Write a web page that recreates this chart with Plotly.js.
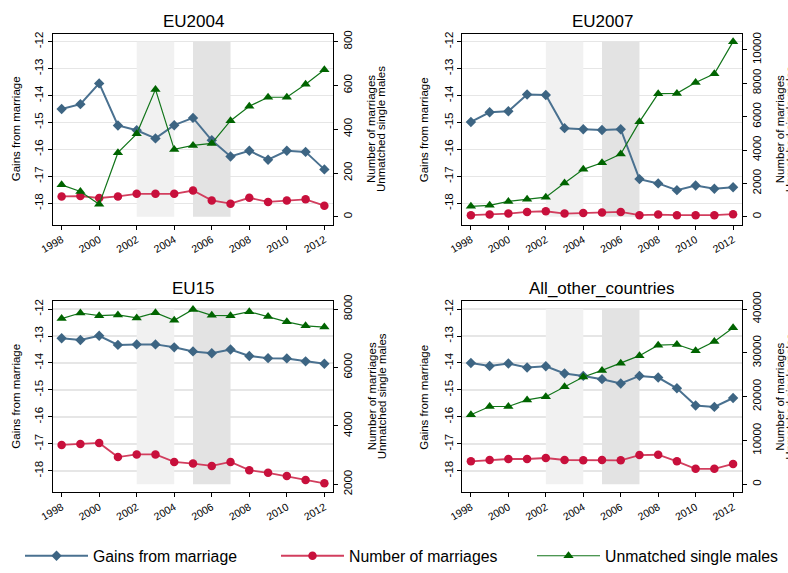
<!DOCTYPE html>
<html><head><meta charset="utf-8">
<script src="https://cdn.plot.ly/plotly-3.0.1.min.js"></script>
<style>html,body{margin:0;padding:0;background:#fff}#chart{width:788px;height:573px}</style>
</head><body><div id="chart"></div>
<script>
// ---------- data ----------
const years = [1998,1999,2000,2001,2002,2003,2004,2005,2006,2007,2008,2009,2010,2011,2012];
const panelNames = ["EU2004","EU2007","EU15","All_other_countries"];
const seriesNames = ["Gains from marriage","Number of marriages","Unmatched single males"];

const gainsEU2004 = [-14.50,-14.32,-13.55,-15.11,-15.29,-15.59,-15.10,-14.83,-15.66,-16.26,-16.05,-16.38,-16.05,-16.09,-16.74];
const marrEU2004  = [93,95,86,93,105,105,105,120,75,60,87,68,75,80,51];
const unmEU2004   = [146,116,57,293,379,582,308,326,335,439,505,546,546,605,672];

const gainsEU2007 = [-14.98,-14.62,-14.58,-13.96,-13.98,-15.21,-15.25,-15.28,-15.25,-17.10,-17.26,-17.51,-17.34,-17.46,-17.40];
const marrEU2007  = [98,137,196,294,333,196,235,255,294,98,137,98,98,98,157];
const unmEU2007   = [627,686,922,1059,1176,2020,2843,3235,3765,5686,7373,7392,8039,8569,10490];

const gainsEU15 = [-13.08,-13.15,-12.99,-13.33,-13.31,-13.31,-13.42,-13.57,-13.64,-13.50,-13.74,-13.82,-13.83,-13.94,-14.03];
const marrEU15  = [3348,3382,3416,2933,3022,3022,2764,2708,2629,2764,2483,2393,2281,2146,2034];
const unmEU15   = [7674,7865,7775,7798,7697,7876,7618,7989,7787,7775,7910,7742,7562,7427,7382];

const gainsOther = [-14.00,-14.11,-14.02,-14.17,-14.12,-14.39,-14.48,-14.60,-14.76,-14.48,-14.54,-14.94,-15.58,-15.63,-15.30];
const marrOther  = [5243,5543,5768,5768,5993,5543,5468,5543,5468,6667,6742,5243,3521,3521,4644];
const unmOther   = [15880,17753,17753,19251,20000,22247,24494,25993,27640,29363,31760,31910,30487,32584,35730];

const xTickLabels = [1998,2000,2002,2004,2006,2008,2010,2012];
const leftTicks = [-18,-17,-16,-15,-14,-13,-12];
const rightTicksEU2004 = [0,200,400,600,800];
const rightTicksEU2007 = [0,2000,4000,6000,8000,10000];
const rightTicksEU15   = [2000,4000,6000,8000];
const rightTicksOther  = [0,10000,20000,30000,40000];

const bandYears = [[2002,2004],[2005,2007]];
const bandLow = -18.5, bandHigh = -12;

// ---------- assembly ----------
const gainsAll = [gainsEU2004,gainsEU2007,gainsEU15,gainsOther];
const marrAll  = [marrEU2004,marrEU2007,marrEU15,marrOther];
const unmAll   = [unmEU2004,unmEU2007,unmEU15,unmOther];
const rightTicksAll = [rightTicksEU2004,rightTicksEU2007,rightTicksEU15,rightTicksOther];

const W = 788, H = 573;
const FONT = "Liberation Sans, Arial, sans-serif";
// pixel boxes of each plot region [left,right,top,bottom]
const boxes = [[53,333,34.3,228.3],[462.3,741.7,34.3,228.3],[53,333,306,500],[462.3,741.7,306,500]];
const leftTitleX = [16,424,16,424];
const rightTitleX = [371.7,780,371.7,780];
const titleY = [21.5,21.5,293,293];

const colGains = "#3d6583", colGainsLine = "#4a7190";
const colMarr = "#c8103c", colMarrLine = "#d23e5e";
const colUnm = "#006400", colUnmLine = "#12751a";
const pad = 0.045;
function ext(lo, hi){ const d = hi-lo; return [lo - pad*d, hi + pad*d]; }

const data = [];
const layout = {
  width: W, height: H, margin:{l:0,r:0,t:0,b:0},
  paper_bgcolor:"#fff", plot_bgcolor:"#fff",
  font:{family:FONT, color:"#000"},
  showlegend:true,
  legend:{orientation:"h", x:0.029, xanchor:"left", y:1-565/H, yanchor:"middle",
          font:{size:15.8, family:FONT, color:"#000"}, itemwidth:63, entrywidth:178, entrywidthmode:"pixels",
          bgcolor:"rgba(0,0,0,0)", traceorder:"normal"},
  shapes:[], annotations:[]
};

for (let i=0;i<4;i++){
  const xs = i===0 ? "x" : "x"+(i+1);
  const yl = (2*i+1)===1 ? "y" : "y"+(2*i+1);
  const yr = "y"+(2*i+2);
  const xKey = i===0 ? "xaxis" : "xaxis"+(i+1);
  const ylKey = (2*i+1)===1 ? "yaxis" : "yaxis"+(2*i+1);
  const yrKey = "yaxis"+(2*i+2);
  const b = boxes[i];
  const dx = [b[0]/W, b[1]/W], dy = [1-b[3]/H, 1-b[2]/H];
  const rt = rightTicksAll[i];
  const allR = marrAll[i].concat(unmAll[i]);
  const rlo = Math.min(rt[0], Math.min(...allR));
  const rhi = Math.max(rt[rt.length-1], Math.max(...allR));

  layout[xKey] = {domain:dx, anchor:yl, range:[years[0]-0.46, years[years.length-1]+0.46],
    tickvals:xTickLabels, ticktext:xTickLabels.map(String), tickangle:-30, ticks:"outside", ticklen:4,
    tickcolor:"#000", tickfont:{size:10.5,family:FONT,color:"#000"}, showgrid:false, zeroline:false,
    showline:true, mirror:true, linecolor:"#000", linewidth:1};
  layout[ylKey] = {domain:dy, anchor:xs, range:ext(bandLow,bandHigh), tickvals:leftTicks,
    ticktext:leftTicks.map(String), tickangle:-90, ticks:"outside", ticklen:4, tickcolor:"#000",
    tickfont:{size:11.5,family:FONT,color:"#000"}, showgrid:true, gridcolor:"#e6e6e6", gridwidth:1.6,
    zeroline:false, showline:true, linecolor:"#000", linewidth:1};
  layout[yrKey] = {overlaying:yl, anchor:xs, side:"right", range:ext(rlo,rhi), tickvals:rt,
    ticktext:rt.map(String), tickangle:-90, ticks:"outside", ticklen:4, tickcolor:"#000",
    tickfont:{size:11.5,family:FONT,color:"#000"}, showgrid:false, zeroline:false,
    showline:true, linecolor:"#000", linewidth:1};

  layout.shapes.push({type:"rect", xref:xs, yref:yl, x0:bandYears[0][0], x1:bandYears[0][1], y0:bandLow, y1:bandHigh,
    fillcolor:"#f1f1f1", line:{width:0}, layer:"between"});
  layout.shapes.push({type:"rect", xref:xs, yref:yl, x0:bandYears[1][0], x1:bandYears[1][1], y0:bandLow, y1:bandHigh,
    fillcolor:"#e3e3e3", line:{width:0}, layer:"between"});

  const cx = (b[0]+b[1])/2/W, cy = 1-((b[2]+b[3])/2)/H;
  layout.annotations.push({text:panelNames[i], xref:"paper", yref:"paper", x:cx, y:1-titleY[i]/H,
    xanchor:"center", yanchor:"middle", showarrow:false, font:{size:17,family:FONT,color:"#000"}});
  layout.annotations.push({text:"Gains from marriage", xref:"paper", yref:"paper", x:leftTitleX[i]/W, y:cy,
    xanchor:"center", yanchor:"middle", textangle:-90, showarrow:false, font:{size:11.5,family:FONT,color:"#000"}});
  layout.annotations.push({text:"Number of marriages", xref:"paper", yref:"paper", x:rightTitleX[i]/W, y:cy,
    xanchor:"center", yanchor:"middle", textangle:-90, showarrow:false, font:{size:11.5,family:FONT,color:"#000"}});
  layout.annotations.push({text:"Unmatched single males", xref:"paper", yref:"paper", x:(rightTitleX[i]+10)/W, y:cy,
    xanchor:"center", yanchor:"middle", textangle:-90, showarrow:false, font:{size:11.5,family:FONT,color:"#000"}});

  data.push({x:years, y:gainsAll[i], xaxis:xs, yaxis:yl, type:"scatter", mode:"lines+markers",
    name:seriesNames[0], legendgroup:"g", showlegend:i===0,
    line:{color:colGainsLine, width:2}, marker:{symbol:"diamond", size:8, color:colGains}});
  data.push({x:years, y:marrAll[i], xaxis:xs, yaxis:yr, type:"scatter", mode:"lines+markers",
    name:seriesNames[1], legendgroup:"m", showlegend:i===0,
    line:{color:colMarrLine, width:1.8}, marker:{symbol:"circle", size:8.5, color:colMarr}});
  data.push({x:years, y:unmAll[i], xaxis:xs, yaxis:yr, type:"scatter", mode:"lines+markers",
    name:seriesNames[2], legendgroup:"u", showlegend:i===0,
    line:{color:colUnmLine, width:1.2}, marker:{symbol:"triangle-up", size:9, color:colUnm}});
}

Plotly.newPlot("chart", data, layout, {staticPlot:true, displayModeBar:false});
</script></body></html>
